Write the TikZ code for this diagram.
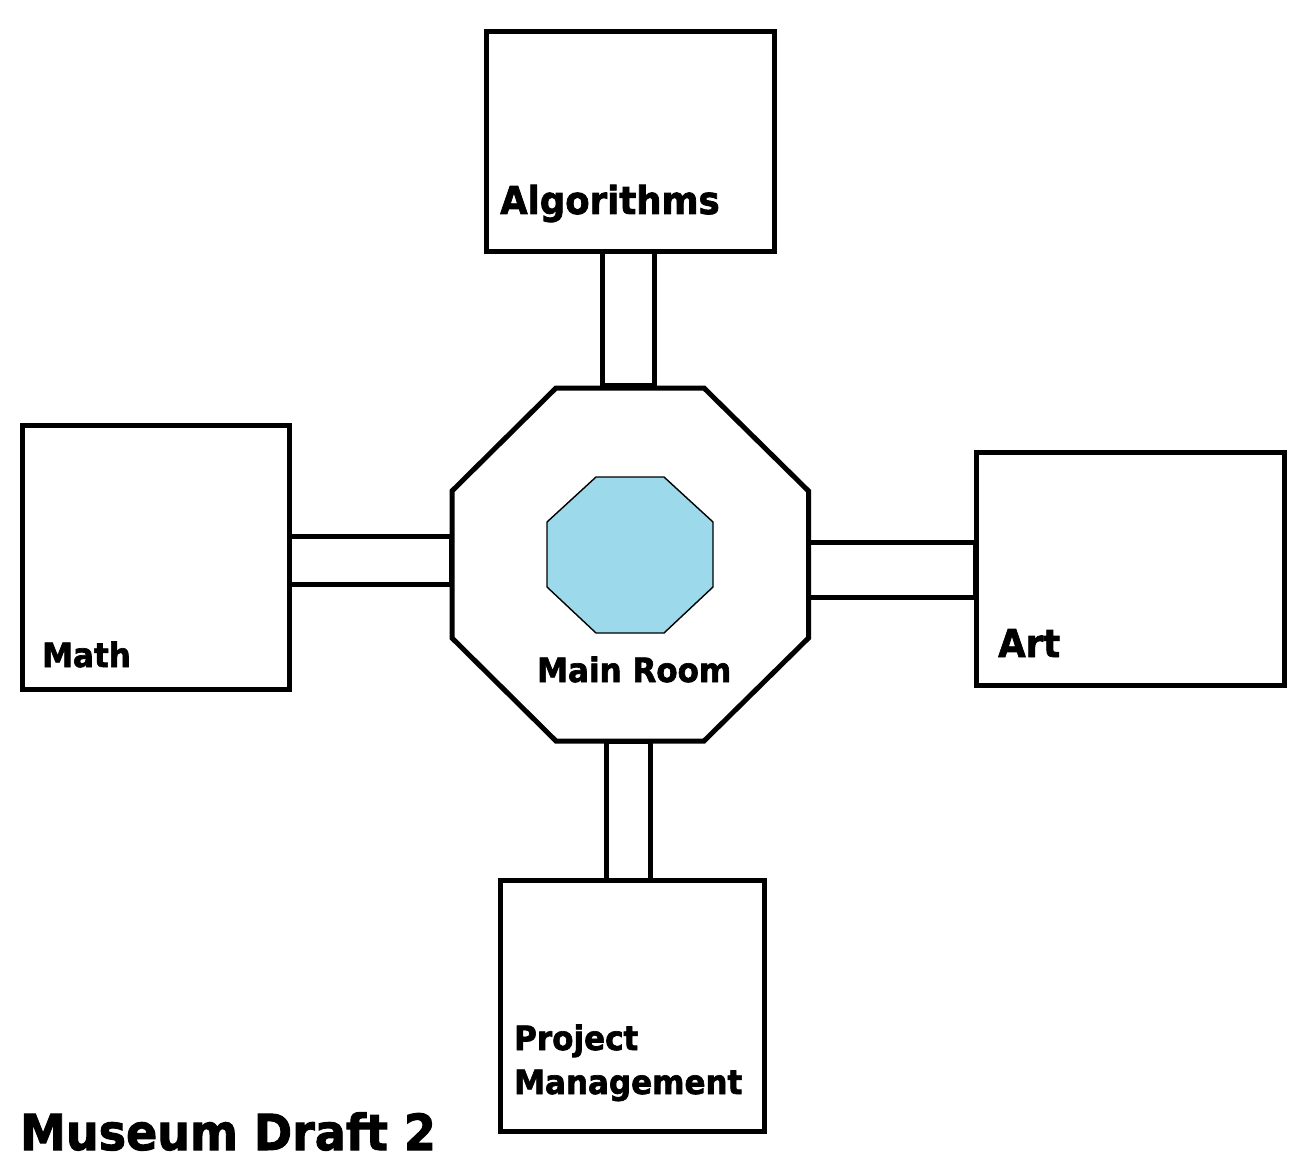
\documentclass[tikz,border=0pt]{standalone}
\usepackage{fontspec}
\setmainfont{DejaVu Sans}[BoldFeatures={FakeBold=2}]
\definecolor{pool}{RGB}{156,217,234}
\begin{document}
\begin{tikzpicture}[x=1pt,y=-1pt,
  wall/.style={draw=black,line width=5pt,fill=white},
  thinwall/.style={draw=black,line width=1.4pt,fill=pool},
  label/.style={anchor=base west,inner sep=0pt,font=\bfseries,yscale=1.08}]
\useasboundingbox (0,0) rectangle (1312,1169);
% corridors
\draw[wall] (602.5,250) rectangle (654.5,385) ;
\draw[wall] (289,536.5) rectangle (451,584.5);
\draw[wall] (808,542.5) rectangle (975.5,597.5);
\draw[wall] (606.5,741) rectangle (650,880);
% rooms
\draw[wall] (486,32) rectangle (774,252);
\draw[wall] (22,425) rectangle (289,689);
\draw[wall] (976,452) rectangle (1284,685);
\draw[wall] (500,880) rectangle (764,1131);
% main room
\draw[wall,line join=miter] (556,388) -- (704,388) -- (808.5,491) -- (808.5,638) -- (704,741) -- (556,741) -- (452,638) -- (452,491) -- cycle;
\draw[thinwall] (596,477) -- (664,477) -- (713,522) -- (713,587) -- (664,633) -- (596,633) -- (547,587) -- (547,522) -- cycle;
% labels
\node[label,font=\bfseries\fontsize{35.5}{40}\selectfont] (talg) at (500,214) {Algorithms};
\node[label,font=\bfseries\fontsize{31}{36}\selectfont] (tmath) at (42,667) {Math};
\node[label,font=\bfseries\fontsize{31}{36}\selectfont] (tmain) at (537,682) {Main Room};
\node[label,font=\bfseries\fontsize{35.5}{40}\selectfont] (tart) at (998,657) {Art};
\node[label,font=\bfseries\fontsize{31}{36}\selectfont] (tproj) at (514,1050) {Project};
\node[label,font=\bfseries\fontsize{31}{36}\selectfont] (tmgmt) at (514,1094) {Management};
\node[label,font=\bfseries\fontsize{46}{52}\selectfont] (ttitle) at (20,1150) {Museum Draft 2};
\end{tikzpicture}
\end{document}
